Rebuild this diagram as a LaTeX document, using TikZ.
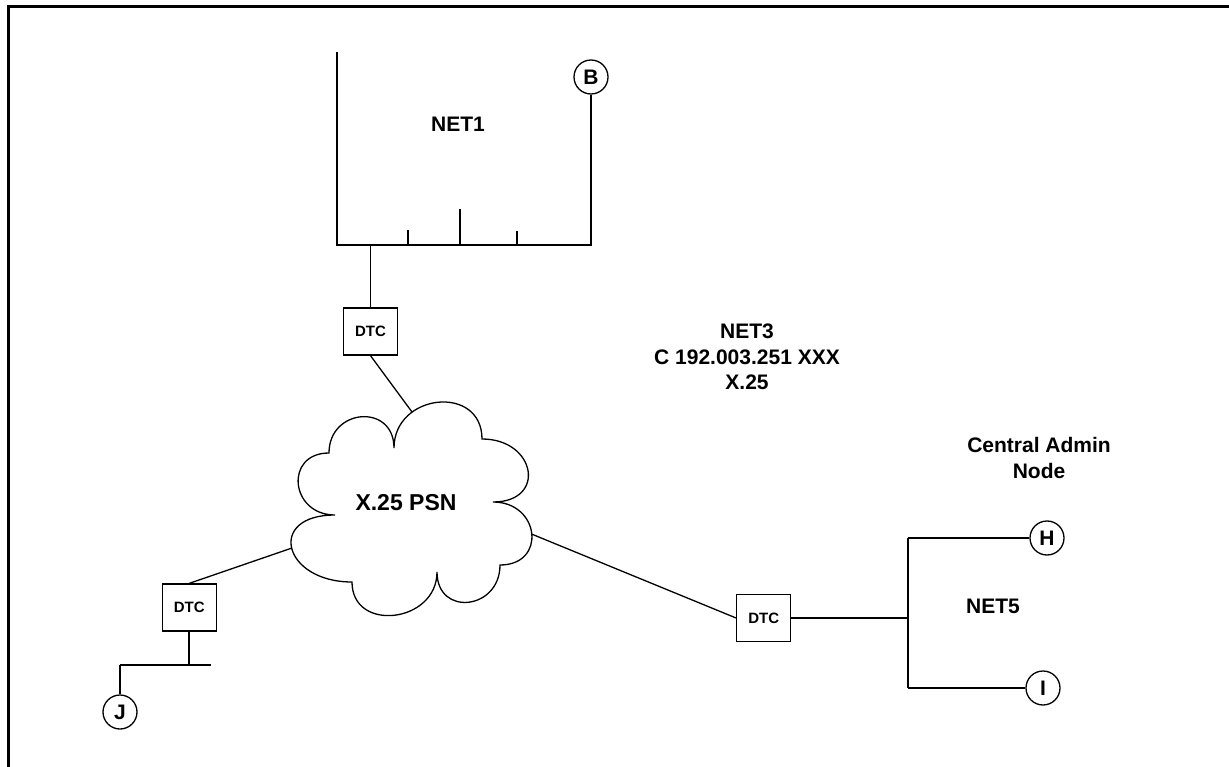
\documentclass[tikz,border=0pt]{standalone}
\usepackage{fontspec}
\setmainfont{Liberation Sans}
\begin{document}
\begin{tikzpicture}[x=1pt,y=-1pt,
  thinln/.style={line width=1.3pt},
  busln/.style={line width=1.8pt},
  dtc/.style={draw,line width=1.3pt,minimum width=54pt,minimum height=47pt,inner sep=0pt,font=\fontsize{15}{18}\selectfont\bfseries},
  host/.style={draw,circle,line width=1.3pt,minimum size=34pt,inner sep=0pt,font=\fontsize{21}{24}\selectfont\bfseries},
  lbl/.style={font=\fontsize{21}{25.5}\selectfont\bfseries,align=center,inner sep=0pt}]
\useasboundingbox (0,0) rectangle (1229,767);
% frame
\coordinate (fbl) at (8,767);
\coordinate (ftl) at (8,7);
\coordinate (ftr) at (1229,7);
\draw[line width=3pt] (fbl) -- (ftl) -- (ftr);

% NET1
\coordinate (n1tl) at (337,52);
\coordinate (n1bl) at (337,245);
\coordinate (n1br) at (591,245);
\node[host] (B) at (591,77) {B};
\draw[busln] (n1tl) -- (n1bl) -- (n1br) -- (B.south);
\coordinate (t1a) at (408,245); \coordinate (t1b) at (408,230);
\coordinate (t2a) at (460,245); \coordinate (t2b) at (460,209);
\coordinate (t3a) at (517,245); \coordinate (t3b) at (517,231);
\draw[busln] (t1a) -- (t1b) (t2a) -- (t2b) (t3a) -- (t3b);
\node[lbl] (net1) at (458,124) {NET1};

% top DTC
\coordinate (d1tap) at (370.5,245);
\node[dtc] (dtc1) at (370.5,331.5) {DTC};
\draw[thinln] (d1tap) -- (dtc1.north);

% cloud
\draw[thinln] (394,448) .. controls (394,393) and (482,384) .. (482,439)
 .. controls (536,439) and (547,502) .. (493,502)
 .. controls (540,502) and (547,565) .. (500,565)
 .. controls (500,610) and (437,617) .. (437,572)
 .. controls (437,623) and (352,633) .. (352,582)
 .. controls (283,582) and (266,515) .. (335,515)
 .. controls (290,515) and (284,453) .. (329,453)
 .. controls (329,408) and (394,403) .. cycle;
\node[font=\fontsize{23}{27}\selectfont\bfseries,inner sep=0pt] (psn) at (406,503) {X.25 PSN};
\coordinate (cT) at (412,412);
\coordinate (cL) at (292,548);
\coordinate (cR) at (531.5,534);
\draw[thinln] (dtc1.south) -- (cT);

% left DTC
\node[dtc] (dtc2) at (189.3,607.5) {DTC};
\draw[thinln] (dtc2.north) -- (cL);
\coordinate (jtap) at (189.3,665);
\coordinate (jl) at (120,665);
\coordinate (jr) at (211,665);
\node[host] (J) at (120,712) {J};
\draw[busln] (dtc2.south) -- (jtap);
\draw[busln] (jl) -- (jr);
\draw[busln] (jl) -- (J.north);

% right DTC and NET5
\node[dtc] (dtc3) at (763.7,618) {DTC};
\draw[thinln] (cR) -- (dtc3.west);
\coordinate (n5m) at (908,618);
\coordinate (n5t) at (908,538);
\coordinate (n5b) at (908,688);
\node[host] (H) at (1047,538) {H};
\node[host] (I) at (1043,688) {I};
\draw[busln] (dtc3.east) -- (n5m);
\draw[busln] (n5t) -- (n5b);
\draw[busln] (n5t) -- (H.west);
\draw[busln] (n5b) -- (I.west);
\node[lbl] (net5) at (993,606) {NET5};

% labels
\node[lbl] (net3) at (747,357) {NET3\\C 192.003.251 XXX\\X.25};
\node[lbl] (can) at (1039,458) {Central Admin\\Node};
\end{tikzpicture}
\end{document}
